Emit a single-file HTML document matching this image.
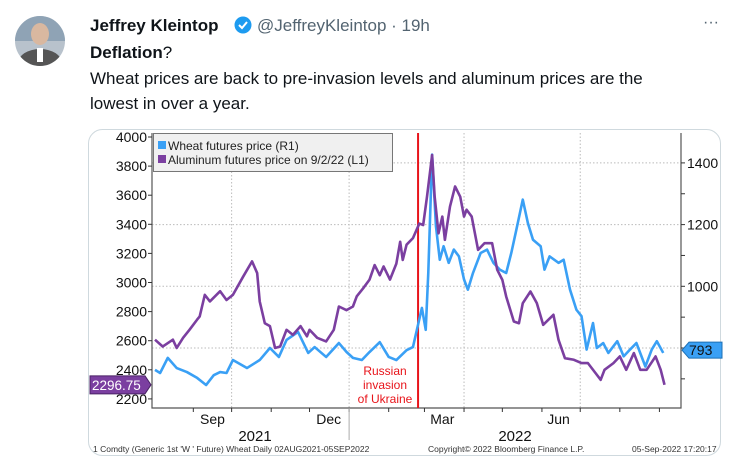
<!DOCTYPE html>
<html><head><meta charset="utf-8"><style>
body{margin:0;width:738px;height:463px;background:#fff;overflow:hidden;font-family:"Liberation Sans",sans-serif;}
svg{position:absolute;left:0;top:0}
</style></head><body>
<svg width="738" height="463">
<defs><clipPath id="av"><circle cx="40" cy="41" r="25"/></clipPath></defs>
<g>
<circle cx="40" cy="41" r="25" fill="#b8c2cc"/>
<g clip-path="url(#av)"><rect x="15" y="16" width="50" height="25" fill="#8fa3b5"/><ellipse cx="40" cy="63" rx="22" ry="14" fill="#555"/><ellipse cx="40" cy="34" rx="9" ry="11" fill="#d9b8a0"/><rect x="37" y="48" width="6" height="14" fill="#fff"/></g>
</g>
<text x="90" y="31" font-size="17" font-weight="bold" fill="#0f1419">Jeffrey Kleintop</text>
<g><circle cx="243" cy="25" r="8.5" fill="#1d9bf0"/><path d="M239 25 l3 3 l5 -6" stroke="#fff" stroke-width="2" fill="none"/></g>
<text x="257" y="31" font-size="17" fill="#536471">@JeffreyKleintop · 19h</text>
<text x="703" y="27" font-size="16" fill="#536471">···</text>
<text x="90" y="58" font-size="17" fill="#0f1419"><tspan font-weight="bold">Deflation</tspan>?</text>
<text x="90" y="84" font-size="17" fill="#0f1419">Wheat prices are back to pre-invasion levels and aluminum prices are the</text>
<text x="90" y="109" font-size="17" fill="#0f1419">lowest in over a year.</text>
<rect x="88.5" y="129.5" width="632" height="326" rx="14" fill="#fff" stroke="#cfd9de"/>
<g id="chart"></g>
</svg>
<script>
const alDays=[0,6,14,17,22,27,33,35,39,43,51,56,61,69,76,80,82,86,90,94,98,103,108,114,119,121,127,134,140,144,150,155,158,163,168,172,176,179,184,189,192,194,197,202,207,210,213,217,219,222,225,227,231,235,239,242,244,248,253,258,264,268,272,275,281,285,288,294,299,304,312,316,321,328,334,339,345,349,352,359,364,369,375,380,385,392,396,399];
const alVals=[2607,2560,2607,2550,2620,2675,2745,2767,2915,2870,2940,2880,2915,3040,3145,3065,2870,2720,2700,2550,2560,2675,2640,2700,2630,2675,2620,2595,2675,2835,2810,2835,2905,2960,3020,3120,3050,3110,3020,3130,3280,3155,3260,3305,3405,3395,3590,3876,3590,3338,3453,3293,3522,3660,3590,3453,3500,3453,3224,3270,3270,3087,3018,2904,2732,2720,2858,2938,2858,2709,2778,2606,2480,2469,2446,2446,2377,2331,2400,2446,2492,2400,2515,2400,2400,2492,2400,2297];
const whDays=[0,4,10,17,25,33,40,46,51,56,61,72,82,90,97,103,112,120,125,134,144,150,155,162,168,176,183,189,197,202,209,212,214,217,220,223,226,230,234,238,242,245,249,255,260,265,270,275,279,283,288,292,296,302,305,309,316,320,325,330,334,338,343,346,351,355,362,367,372,377,384,389,393,398];
const whVals=[729,719,768,735,722,703,680,712,722,719,761,735,761,800,771,826,852,784,803,771,816,787,768,761,787,819,771,761,793,803,930,859,1043,1427,1195,1086,1130,1076,1119,1097,1022,989,1043,1108,1119,1076,1054,1043,1108,1184,1281,1205,1151,1130,1054,1097,1076,1086,989,924,903,795,881,800,816,784,822,773,795,816,740,795,822,784];
const leftTicks=[2200,2400,2600,2800,3000,3200,3400,3600,3800,4000];
const rightTicks=[800,1000,1200,1400];
const monthLabels=["Sep","Dec","Mar","Jun"];
const monthLabelDays=[45,136,225,316];
const monthStartDays=[30,60,91,121,152,183,211,242,272,303,333,364,395];
const quarterDays=[60,152,242,333];
const invasionDay=206;

const X0=155,PX=1.277,PL=152,PR=681,PT=133,PB=408;
const xs=d=>X0+d*PX;
const yL=v=>137+(4000-v)/200*29.1;
const yR=v=>348-(v-800)/200*61.7;
const NS="http://www.w3.org/2000/svg";
const g=document.getElementById('chart');
function el(t,a,txt){const e=document.createElementNS(NS,t);for(const k in a)e.setAttribute(k,a[k]);if(txt!=null)e.textContent=txt;g.appendChild(e);return e;}
const F='"Liberation Sans",sans-serif';
// gridlines
quarterDays.forEach(d=>{const e=el('line',{x1:xs(d),x2:xs(d),y1:PT,y2:PB,stroke:'#bbb','stroke-dasharray':'1.5,2'});

});
rightTicks.forEach(v=>{const e=el('line',{x1:PL,x2:PR,y1:yR(v),y2:yR(v),stroke:'#bbb','stroke-dasharray':'1.5,2'});

});
// axes
let a=el('polyline',{points:`${PL},${PT} ${PL},${PB} ${PR},${PB} ${PR},${PT}`,fill:'none',stroke:'#555','stroke-width':1.2});


leftTicks.forEach(v=>{el('line',{x1:PL-4,x2:PL,y1:yL(v),y2:yL(v),stroke:'#333'});
const t=el('text',{x:PL-5,y:yL(v)+5,'font-size':14,'text-anchor':'end',fill:'#111','font-family':F},v);

});
[700,900,1100,1300].concat(rightTicks).forEach(v=>{el('line',{x1:PR,x2:PR+4,y1:yR(v),y2:yR(v),stroke:'#333'});});
rightTicks.forEach(v=>{const t=el('text',{x:PR+6,y:yR(v)+5,'font-size':14,fill:'#111','font-family':F},v);

});
monthStartDays.forEach(d=>el('line',{x1:xs(d),x2:xs(d),y1:PB,y2:PB+4,stroke:'#333'}));
monthLabels.forEach((m,i)=>{const t=el('text',{x:xs(monthLabelDays[i]),y:424,'font-size':14,'text-anchor':'middle',fill:'#111','font-family':F},m);

});
el('line',{x1:xs(152),x2:xs(152),y1:PB,y2:440,stroke:'#aaa'});
let y1=el('text',{x:255,y:441,'font-size':15,'text-anchor':'middle',fill:'#111','font-family':F},'2021');


let y2=el('text',{x:515,y:441,'font-size':15,'text-anchor':'middle',fill:'#111','font-family':F},'2022');


// invasion
let inv=el('line',{x1:xs(invasionDay),x2:xs(invasionDay),y1:PT,y2:PB,stroke:'#e8141a','stroke-width':2});


['Russian','invasion','of Ukraine'].forEach((s,i)=>{const t=el('text',{x:385,y:375+i*14,'font-size':12,'text-anchor':'middle',fill:'#e8141a','font-family':F},s);

});
// series
let pw=el('polyline',{points:whDays.map((d,i)=>xs(d)+','+yR(whVals[i])).join(' '),fill:'none',stroke:'#3aa0f5','stroke-width':2.6,'stroke-linejoin':'round'});


let pa=el('polyline',{points:alDays.map((d,i)=>xs(d)+','+yL(alVals[i])).join(' '),fill:'none',stroke:'#7b3fa0','stroke-width':2.6,'stroke-linejoin':'round'});


// last value tags
let tw=el('path',{d:`M682,${yR(793)} l7,-8 h33 v16 h-33 z`,fill:'#3aa0f5',stroke:'#1c6fb5'});


el('text',{x:689,y:yR(793)+5,'font-size':14,fill:'#111','font-family':F},'793');
let ta=el('path',{d:`M90,${yL(2296.75)-9} h55 l6,9 l-6,9 h-55 z`,fill:'#7b3fa0',stroke:'#4a2266'});


el('text',{x:92,y:yL(2296.75)+5,'font-size':13.5,fill:'#fff','font-family':F},'2296.75');
// legend
let lg=el('rect',{x:153.5,y:133.5,width:239,height:38,fill:'#f0f0f0',stroke:'#777'});


el('rect',{x:158,y:141,width:8,height:8,fill:'#3aa0f5'});
let l1=el('text',{x:168,y:150,'font-size':12,fill:'#222','font-family':'"Liberation Sans",sans-serif'},'Wheat futures price (R1)');


el('rect',{x:158,y:155,width:8,height:8,fill:'#7b3fa0'});
let l2=el('text',{x:168,y:164,'font-size':12,fill:'#222','font-family':F},'Aluminum futures price on 9/2/22 (L1)');


// footer
let f1=el('text',{x:93,y:452,'font-size':8.5,fill:'#333','font-family':F},"1 Comdty (Generic 1st 'W ' Future) Wheat  Daily 02AUG2021-05SEP2022");


let f2=el('text',{x:428,y:452,'font-size':8.5,fill:'#333','font-family':F},'Copyright© 2022 Bloomberg Finance L.P.');


let f3=el('text',{x:632,y:452,'font-size':8.5,fill:'#333','font-family':F},'05-Sep-2022 17:20:17');


</script>
</body></html>
